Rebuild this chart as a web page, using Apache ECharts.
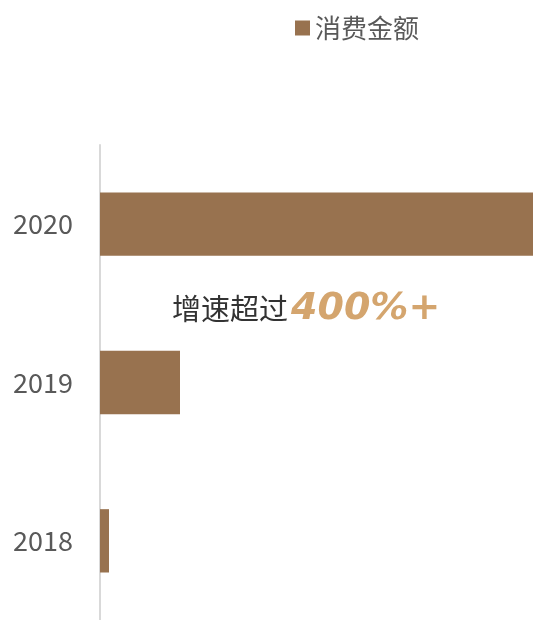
<!DOCTYPE html>
<html>
<head>
<meta charset="utf-8">
<script src="https://cdn.jsdelivr.net/npm/echarts@6/dist/echarts.min.js"></script>
<style>
  html, body { margin: 0; padding: 0; background: #fff; }
  #chart { width: 533px; height: 620px; }
</style>
</head>
<body>
<div id="chart"></div>
<script>
var years = ['2018', '2019', '2020'];
var amounts = [9, 80, 433];
var seriesName = '消费金额';
var noteText = '增速超过';
var noteValue = '400%+';

var barColor = '#98724f';
var font = '"Microsoft YaHei", "Noto Sans CJK SC", sans-serif';

var chart = echarts.init(document.getElementById('chart'));
chart.setOption({
    backgroundColor: '#fff',
    animation: false,
    textStyle: { fontFamily: font },
    legend: {
        data: [seriesName],
        left: 290,
        top: 10,
        itemWidth: 15,
        itemHeight: 15,
        itemGap: 0,
        icon: 'rect',
        textStyle: { fontSize: 26, color: '#595959', fontFamily: font }
    },
    grid: { left: 100, right: 0, top: 145, bottom: 0, containLabel: false },
    xAxis: {
        type: 'value',
        min: 0,
        max: 433,
        show: false
    },
    yAxis: {
        type: 'category',
        data: years,
        axisLine: { show: true, lineStyle: { color: '#d9d9d9', width: 2 } },
        axisTick: { show: false },
        axisLabel: { fontSize: 27, color: '#595959', margin: 27, fontFamily: font }
    },
    series: [{
        name: seriesName,
        type: 'bar',
        data: amounts,
        barWidth: '40%',
        itemStyle: { color: barColor }
    }],
    graphic: [{
        type: 'text',
        left: 172,
        top: 290,
        style: {
            text: '{a|' + noteText + '}{b|' + noteValue + '}',
            rich: {
                a: { fontSize: 29, fill: '#333333', fontFamily: font },
                b: { fontSize: 38, fill: '#d4a56e', fontWeight: 'bold', fontStyle: 'italic', fontFamily: '"DejaVu Sans", sans-serif', padding: [0, 0, 0, 3] }
            }
        }
    }]
});
</script>
</body>
</html>
